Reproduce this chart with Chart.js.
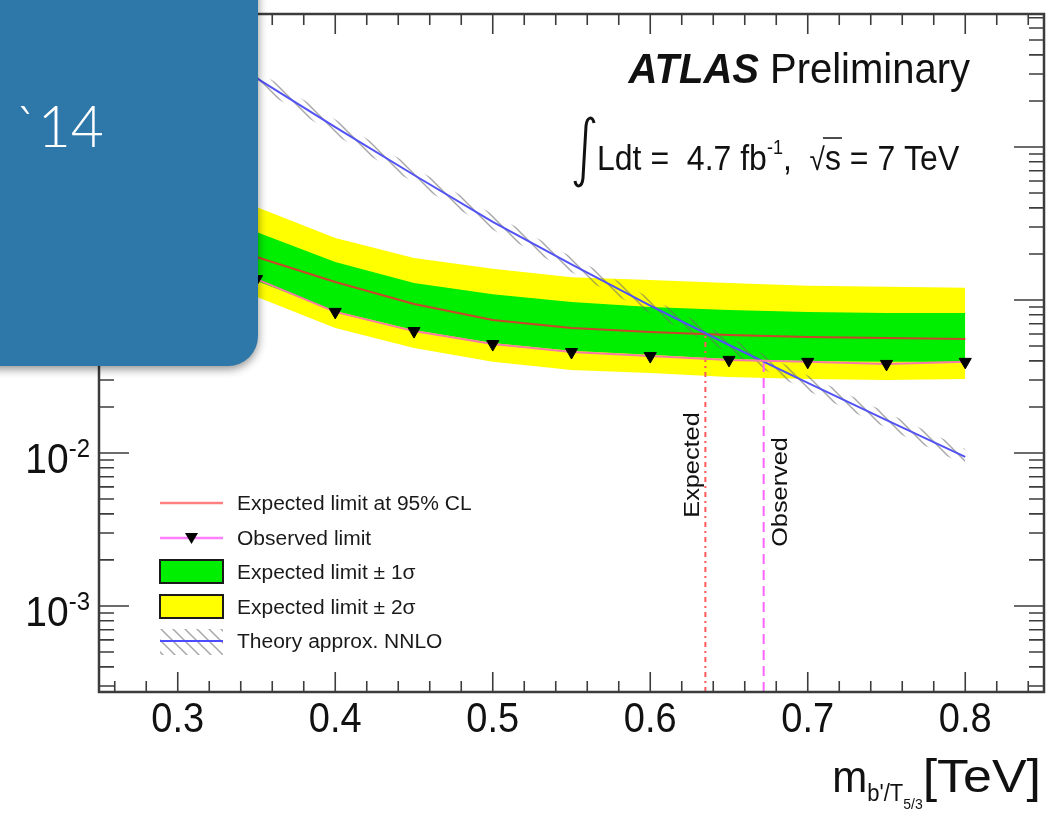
<!DOCTYPE html>
<html>
<head>
<meta charset="utf-8">
<script src="https://cdn.jsdelivr.net/npm/chart.js@4.4.0/dist/chart.umd.min.js"></script>
<style>
  html, body { margin: 0; padding: 0; background: #fff; }
  canvas { display: block; }
</style>
</head>
<body>
<canvas id="limitChart" width="1054" height="820"></canvas>
<script>
// mass points [TeV]
const masses = [0.35, 0.40, 0.45, 0.50, 0.55, 0.60, 0.65, 0.70, 0.75, 0.80];

// 95% CL limits on the cross section [pb]
const expectedLimit = [0.191, 0.131, 0.0942, 0.0740, 0.0656, 0.0618, 0.0590, 0.0573, 0.0565, 0.0556];
const observedLimit = [0.137, 0.0836, 0.0626, 0.0515, 0.0457, 0.0430, 0.0406, 0.0394, 0.0382, 0.0394];
const oneSigmaUp    = [0.278, 0.177, 0.129, 0.109, 0.0970, 0.0899, 0.0861, 0.0836, 0.0822, 0.0822];
const oneSigmaDown  = [0.133, 0.0847, 0.0637, 0.0524, 0.0465, 0.0438, 0.0411, 0.0399, 0.0394, 0.0394];
const twoSigmaUp    = [0.406, 0.254, 0.188, 0.160, 0.141, 0.135, 0.129, 0.124, 0.122, 0.120];
const twoSigmaDown  = [0.105, 0.0656, 0.0485, 0.0394, 0.0348, 0.0333, 0.0314, 0.0305, 0.0300, 0.0305];

// theory cross section (approx. NNLO) and its uncertainty band [pb]
const theory     = [2.82, 1.35, 0.656, 0.324, 0.171, 0.0920, 0.0508, 0.0287, 0.0164, 0.00942];
const theoryUp   = [3.16, 1.51, 0.735, 0.363, 0.192, 0.103, 0.0569, 0.0321, 0.0184, 0.0106];
const theoryDown = [2.51, 1.20, 0.584, 0.288, 0.152, 0.0819, 0.0452, 0.0255, 0.0146, 0.00838];

// mass limits [TeV] and the cross section where they cross the theory
const expectedMassLimit = 0.635;
const observedMassLimit = 0.672;
const expectedAtLimit = 0.059;
const observedAtLimit = 0.039;

// axes
const xMin = 0.25, xMax = 0.85;
const yMin = 2.74e-4, yMax = 7.4;
const xTicks = [0.3, 0.4, 0.5, 0.6, 0.7, 0.8];
const xTickLabels = ['0.3', '0.4', '0.5', '0.6', '0.7', '0.8'];
const yTicks = [1e-3, 1e-2, 1e-1, 1];
const yTickExponents = ['-3', '-2', '-1', '0'];

const legendLabels = [
    'Expected limit at 95% CL',
    'Observed limit',
    'Expected limit \u00b1 1\u03c3',
    'Expected limit \u00b1 2\u03c3',
    'Theory approx. NNLO'
];

const FONT = '"Liberation Sans", Arial, Helvetica, sans-serif';
const canvas = document.getElementById('limitChart');
const ctx = canvas.getContext('2d');

// diagonal hatching for the theory band
const hatch = (() => {
    const c = document.createElement('canvas');
    c.width = 12; c.height = 12;
    const g = c.getContext('2d');
    g.strokeStyle = 'rgba(110,110,110,0.6)';
    g.lineWidth = 1.5;
    g.beginPath();
    g.moveTo(-2, -2); g.lineTo(14, 14);
    g.moveTo(-2, 10); g.lineTo(2, 14);
    g.moveTo(10, -2); g.lineTo(14, 2);
    g.stroke();
    return ctx.createPattern(c, 'repeat');
})();

const pts = (vals) => masses.map((m, i) => ({ x: m, y: vals[i] }));

// text with a slight stretch, like the scanned original
function stretchedText(c, text, x, y, font, sy, align, sx) {
    c.save();
    c.font = font;
    c.textAlign = align || 'left';
    c.translate(x, y);
    c.scale(sx || 1, sy);
    c.fillText(text, 0, 0);
    c.restore();
}

function richText(c, x, y, parts, align, sy) {
    let w = 0;
    parts.forEach(p => { c.font = p.font; w += c.measureText(p.text).width * (p.sx || 1) + (p.gap || 0); });
    let cx = align === 'right' ? x - w : (align === 'center' ? x - w / 2 : x);
    parts.forEach(p => {
        stretchedText(c, p.text, cx, y + (p.dy || 0), p.font, sy || 1, 'left', p.sx);
        c.font = p.font;
        cx += c.measureText(p.text).width * (p.sx || 1) + (p.gap || 0);
    });
    return cx;
}

const atlasPlot = {
    id: 'atlasPlot',
    beforeDraw(chart) {
        const c = chart.ctx;
        c.save();
        c.fillStyle = '#fff';
        c.fillRect(0, 0, chart.width, chart.height);
        c.restore();
    },
    afterDatasetsDraw(chart) {
        const c = chart.ctx;
        const a = chart.chartArea;
        const xs = chart.scales.x, ys = chart.scales.y;
        c.save();

        // frame
        c.strokeStyle = '#3c3c3c';
        c.lineWidth = 2.5;
        c.strokeRect(a.left, a.top, a.right - a.left, a.bottom - a.top);

        // x ticks (bottom and top)
        c.lineWidth = 1.6;
        c.beginPath();
        for (let k = 13; k <= 42; k++) {
            const v = k / 50;
            const px = xs.getPixelForValue(v);
            const major = k % 5 === 0;
            const len = major ? 20 : 11;
            c.moveTo(px, a.bottom); c.lineTo(px, a.bottom - len);
            c.moveTo(px, a.top); c.lineTo(px, a.top + len);
        }
        // y ticks (left and right)
        for (let e = -4; e <= 0; e++) {
            for (let m = 1; m <= 9; m++) {
                const v = m * Math.pow(10, e);
                if (v < yMin || v > yMax) continue;
                const py = ys.getPixelForValue(v);
                const len = m === 1 ? 30 : 15;
                c.moveTo(a.left, py); c.lineTo(a.left + len, py);
                c.moveTo(a.right, py); c.lineTo(a.right - len, py);
            }
        }
        c.stroke();

        // tick labels
        c.fillStyle = '#111';
        xTicks.forEach((v, i) => {
            stretchedText(c, xTickLabels[i], xs.getPixelForValue(v), a.bottom + 40, '38px ' + FONT, 1.12, 'center');
        });
        yTicks.forEach((v, i) => {
            const py = ys.getPixelForValue(v);
            richText(c, 91, py + 20, [
                { text: '10', font: '39px ' + FONT },
                { text: yTickExponents[i], font: '24px ' + FONT, dy: -16, gap: 1 }
            ], 'right', 1.1);
        });

        // axis title
        richText(c, 1041, 792, [
            { text: 'm', font: '42px ' + FONT },
            { text: 'b\'/T', font: '22px ' + FONT, dy: 9 },
            { text: '5/3', font: '14px ' + FONT, dy: 17 },
            { text: '[TeV]', font: '44px ' + FONT, sx: 1.18 }
        ], 'right', 1.06);

        // mass limit labels
        c.save();
        c.translate(699, 465);
        c.rotate(-Math.PI / 2);
        c.scale(1.15, 1);
        c.font = '22px ' + FONT;
        c.textAlign = 'center';
        c.fillText('Expected', 0, 0);
        c.restore();
        c.save();
        c.translate(787, 492);
        c.rotate(-Math.PI / 2);
        c.scale(1.15, 1);
        c.font = '22px ' + FONT;
        c.textAlign = 'center';
        c.fillText('Observed', 0, 0);
        c.restore();

        // ATLAS label
        richText(c, 970, 83, [
            { text: 'ATLAS', font: 'italic bold 40px ' + FONT, gap: 11 },
            { text: 'Preliminary', font: '40px ' + FONT }
        ], 'right', 1.08);

        // integral sign
        c.strokeStyle = '#111';
        c.lineWidth = 3;
        c.beginPath();
        c.moveTo(594, 123);
        c.bezierCurveTo(593, 116, 587, 116, 586, 126);
        c.lineTo(583, 178);
        c.bezierCurveTo(582, 188, 576, 188, 575, 181);
        c.stroke();
        // luminosity and energy
        let cx = richText(c, 597, 170, [
            { text: 'Ldt =  4.7 fb', font: '32px ' + FONT },
            { text: '-1', font: '18px ' + FONT, dy: -16 },
            { text: ',  ', font: '32px ' + FONT },
            { text: '\u221a', font: '28px ' + FONT }
        ], 'left', 1.12);
        c.font = '32px ' + FONT;
        const sw = c.measureText('s').width;
        c.lineWidth = 1.5;
        c.beginPath();
        c.moveTo(cx - 2, 138); c.lineTo(cx + sw + 1, 138);
        c.stroke();
        richText(c, cx, 170, [{ text: 's = 7 TeV', font: '32px ' + FONT }], 'left', 1.12);

        // legend
        const lx0 = 160, lx1 = 223, tx = 237;
        const rows = [503, 538, 572, 607, 641];
        c.lineWidth = 2.5;
        c.strokeStyle = '#ff8080';
        c.beginPath(); c.moveTo(lx0, rows[0]); c.lineTo(lx1, rows[0]); c.stroke();
        c.strokeStyle = '#ff80ff';
        c.beginPath(); c.moveTo(lx0, rows[1]); c.lineTo(lx1, rows[1]); c.stroke();
        c.fillStyle = '#000';
        c.beginPath();
        c.moveTo(185, rows[1] - 5); c.lineTo(198, rows[1] - 5); c.lineTo(191.5, rows[1] + 6);
        c.closePath(); c.fill();
        c.lineWidth = 2;
        c.strokeStyle = '#1a1a1a';
        c.fillStyle = '#00ee00';
        c.fillRect(lx0, 560, lx1 - lx0, 23); c.strokeRect(lx0, 560, lx1 - lx0, 23);
        c.fillStyle = '#ffff00';
        c.fillRect(lx0, 595, lx1 - lx0, 23); c.strokeRect(lx0, 595, lx1 - lx0, 23);
        c.fillStyle = hatch;
        c.fillRect(lx0, 629, lx1 - lx0, 26);
        c.strokeStyle = '#4d4dff';
        c.lineWidth = 2;
        c.beginPath(); c.moveTo(lx0, rows[4]); c.lineTo(lx1, rows[4]); c.stroke();
        c.fillStyle = '#1a1a1a';
        legendLabels.forEach((t, i) => {
            stretchedText(c, t, tx, rows[i] + 7, '20px ' + FONT, 1.05, 'left', 1.05);
        });

        // conference slide tab covering the top-left corner
        c.save();
        c.shadowColor = 'rgba(0,0,0,0.45)';
        c.shadowBlur = 10;
        c.shadowOffsetY = 3;
        c.fillStyle = '#2e77a9';
        c.beginPath();
        c.roundRect(-20, -20, 278, 386, [0, 0, 30, 0]);
        c.fill();
        c.restore();
        c.fillStyle = '#fff';
        c.font = '300 57px Lato, "Open Sans", sans-serif';
        c.fillText('`14', 15, 147);

        c.restore();
    }
};

new Chart(ctx, {
    type: 'line',
    data: {
        datasets: [
            { data: pts(twoSigmaUp), fill: '+1', backgroundColor: '#ffff00', borderWidth: 0, pointRadius: 0, order: 10 },
            { data: pts(twoSigmaDown), fill: false, borderWidth: 0, pointRadius: 0, order: 10 },
            { data: pts(oneSigmaUp), fill: '+1', backgroundColor: '#00ee00', borderWidth: 0, pointRadius: 0, order: 9 },
            { data: pts(oneSigmaDown), fill: false, borderWidth: 0, pointRadius: 0, order: 9 },
            { data: pts(theoryUp), fill: '+1', backgroundColor: hatch, borderWidth: 0, pointRadius: 0, order: 8 },
            { data: pts(theoryDown), fill: false, borderWidth: 0, pointRadius: 0, order: 8 },
            { data: pts(expectedLimit), borderColor: '#c9452b', borderWidth: 2, pointRadius: 0, order: 5 },
            { data: pts(observedLimit), borderColor: '#f57aa8', borderWidth: 2,
              pointStyle: 'triangle', rotation: 180, pointRadius: 7,
              pointBackgroundColor: '#000', pointBorderColor: '#000', pointBorderWidth: 1, order: 3 },
            { data: pts(theory), borderColor: '#5252f5', borderWidth: 2, pointRadius: 0, order: 4 },
            { data: [{ x: expectedMassLimit, y: yMin }, { x: expectedMassLimit, y: expectedAtLimit }],
              borderColor: '#ff5a5a', borderWidth: 2, borderDash: [5, 4, 2, 4], pointRadius: 0, order: 6 },
            { data: [{ x: observedMassLimit, y: yMin }, { x: observedMassLimit, y: observedAtLimit }],
              borderColor: '#ff66ff', borderWidth: 2, borderDash: [10, 6], pointRadius: 0, order: 6 }
        ]
    },
    options: {
        responsive: false,
        animation: false,
        layout: { padding: { left: 99, right: 10, top: 14, bottom: 128 } },
        elements: { line: { tension: 0 } },
        plugins: { legend: { display: false }, tooltip: { enabled: false } },
        scales: {
            x: { type: 'linear', min: xMin, max: xMax, display: false },
            y: { type: 'logarithmic', min: yMin, max: yMax, display: false, bounds: 'data' }
        }
    },
    plugins: [atlasPlot]
});
</script>
</body>
</html>
